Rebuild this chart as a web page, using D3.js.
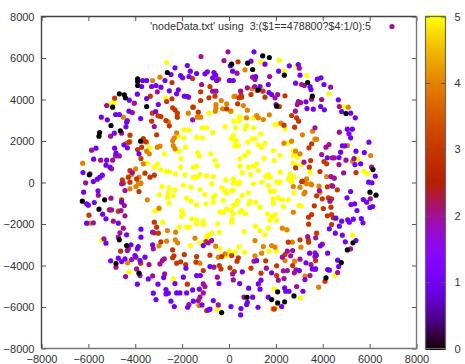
<!DOCTYPE html>
<html><head><meta charset="utf-8">
<script src="https://cdnjs.cloudflare.com/ajax/libs/d3/7.8.5/d3.min.js"></script>
<style>html,body{margin:0;padding:0;background:#fff}svg{display:block}text{font-family:"Liberation Sans",Arial,sans-serif;font-size:11px;fill:#333}</style>
</head><body><svg id="c" width="465" height="364"></svg>
<script>
const xTicks=[-8000,-6000,-4000,-2000,0,2000,4000,6000,8000];
const yTicks=[-8000,-6000,-4000,-2000,0,2000,4000,6000,8000];
const cbTicks=[0,1,2,3,4,5];
const keyLabel="'nodeData.txt' using  3:($1==478800?$4:1/0):5";
const keySample=[6953,7518,2];
const values0=[[-2632,5301],[112,5703],[-3898,4996],[-3898,4867],[-3898,4674],[-4680,4272],[-4467,4224],[-4424,4080],[-4964,3630],[-3514,3662],[-5036,2746],[-4637,2489],[-5519,2408],[-5547,2232],[-3770,1990],[-5960,368],[1436,6104],[1720,6024],[796,5751],[1009,5445],[2360,5172],[3356,4819],[3555,4160],[2033,3678],[1251,4465],[4991,3324],[6143,625],[-6258,-900],[-5306,-836],[-5547,-1286],[-4680,-2764],[-4367,-3038],[-4822,-3905],[-3841,-4371],[-314,-6268],[6015,-466],[6271,-611],[5289,-2909],[5048,-3247],[4792,-3857],[4138,-4596],[2076,-5271],[1820,-5641],[2773,-5464],[2374,-5753],[2076,-5802],[768,-5529]];
const values1=[[-1779,5638],[-2305,5526],[-2476,5204],[-2064,5156],[-1978,5044],[-1651,5365],[-1708,5108],[-1381,5253],[-1025,5237],[-926,5333],[-642,5301],[-570,5172],[-698,5044],[-528,4915],[55,5622],[155,5365],[13,4915],[-3685,4915],[-3514,4915],[-2732,4915],[-3727,4626],[-3301,4626],[-3116,4674],[-2903,4594],[-3912,4256],[-2547,4417],[-2163,4465],[-2234,4272],[-1907,4160],[-1779,4144],[-3514,4048],[-4253,3967],[-3016,3758],[-4268,3437],[-3130,3421],[-4836,3276],[-4680,3276],[-5448,3148],[-5192,3019],[-4367,2906],[-3770,3083],[-4396,2681],[-4893,2376],[-4879,1653],[-4481,1814],[-4339,1669],[-3841,1380],[-4822,1412],[-5675,1653],[-5775,1123],[-5220,1075],[-5249,833],[-5405,351],[-5505,255],[-5619,158],[-5789,46],[-6230,480],[-5078,737],[1066,6297],[1535,5703],[938,5847],[2573,5622],[2957,5687],[2118,5365],[3029,5172],[1137,5108],[1678,4722],[2844,4787],[184,4915],[3768,4980],[3924,5044],[4052,4722],[3455,4626],[3498,4481],[1322,4626],[1706,4337],[1820,4240],[3284,3887],[4664,3983],[3910,3662],[3327,3565],[3597,3533],[4067,3501],[4806,3421],[5190,3340],[5389,3115],[5048,2569],[5261,2569],[5119,2344],[5190,2151],[5972,1942],[4834,1766],[4948,1766],[4763,1460],[5417,1508],[5773,1444],[4195,1187],[4692,1203],[5617,898],[5375,866],[6242,303],[5958,14],[6100,-18],[-6202,-466],[-5590,-402],[-6074,-1029],[-6002,-1093],[-5747,-965],[-5391,-1527],[-5249,-1752],[-4723,-1961],[-6074,-1961],[-4367,-2523],[-5249,-2925],[-4580,-949],[-3756,-2250],[-3756,-2636],[-4182,-3006],[-3869,-3086],[-3912,-3198],[-3258,-3006],[-4012,-3520],[-3585,-3600],[-3798,-3761],[-4438,-3680],[-4723,-3648],[-4580,-3809],[-5050,-3777],[-1836,-4130],[-812,-4050],[-3443,-4645],[-3912,-4902],[-3031,-4902],[-2789,-4580],[-2305,-4870],[-1950,-4564],[-1381,-4484],[-1225,-4484],[-2689,-5159],[-2689,-5368],[-2590,-5336],[-3230,-5336],[-3116,-5641],[-2234,-5320],[-2092,-5320],[-1808,-5320],[-1552,-5175],[-1267,-5143],[-2476,-5721],[-2334,-5978],[-1765,-6011],[-1523,-5721],[-1153,-5898],[-670,-5689],[-812,-6107],[-883,-6139],[-428,-4870],[84,-5978],[-1097,-3038],[5190,-434],[5034,-740],[5204,-1061],[5361,-1029],[5730,-820],[5873,-949],[6015,-1206],[6128,-1157],[5460,-1350],[5645,-1736],[5716,-1945],[5062,-1800],[5133,-1913],[5304,-1768],[4806,-1865],[4564,-1720],[4706,-2106],[4280,-2234],[4536,-2443],[4834,-2540],[4962,-2861],[5417,-2797],[3896,-3054],[4209,-3407],[3441,-3407],[3725,-3504],[4635,-3745],[4678,-4050],[4209,-4195],[4280,-4227],[3284,-3873],[3697,-4163],[3555,-4163],[3000,-4243],[1180,-3761],[568,-4307],[1820,-4355],[3242,-4677],[3156,-5240],[2374,-5079],[2417,-5240],[2559,-5240],[1678,-5528],[2246,-5978],[1322,-5143],[1251,-4886],[1365,-4709],[839,-5095],[455,-4870],[1009,-5528],[782,-5770],[753,-5882],[512,-6075],[497,-6380],[1237,-6011]];
const values2=[[-1196,6072],[-44,6297],[-215,5879],[-1168,4722],[-698,4401],[-556,4401],[-3059,4369],[-4040,3822],[-5220,3710],[-4125,3372],[-4339,2987],[-3187,2698],[-4580,2376],[-5050,2232],[-5860,1557],[-4836,1283],[-4680,1283],[-5476,1075],[-4964,1075],[-5007,657],[-4125,480],[-6116,-18],[-5931,416],[-1722,4112],[-1552,3019],[3000,5510],[1734,5108],[1109,4963],[1009,5076],[3100,4722],[3213,4674],[4337,4594],[782,4562],[497,4401],[1095,4626],[1962,4080],[2076,4240],[3526,4015],[3953,4000],[2957,3903],[3057,3855],[2915,3758],[2829,3437],[2005,3758],[4706,3662],[4138,1701],[4266,1830],[4706,2424],[3668,2633],[3953,1348],[4408,1187],[4493,1187],[3199,978],[4692,866],[5332,1155],[4991,1075],[4891,464],[4351,287],[4493,207],[6086,737],[341,5269],[42,4915],[-5576,-611],[-4580,-65],[-4438,-386],[-5036,-756],[-4467,-1109],[-5078,-1318],[-5007,-1318],[-4609,-1350],[-4438,-1607],[-4936,-1865],[-5789,-1945],[-4509,-2202],[-4652,-2427],[-4723,-2636],[-5334,-2716],[-4296,-3198],[-4339,-3279],[-3414,-3954],[-4154,-3713],[-3969,-3600],[-4822,-4082],[-3941,-4163],[-4410,-4532],[-3798,-4484],[-3258,-4500],[-2746,-4404],[-2945,-3922],[-2846,-3761],[-2760,-3680],[-3230,-3198],[-3258,-2395],[-1097,-4886],[-1025,-5014],[-1239,-5528],[-1097,-5320],[-1310,-5689],[-1708,-5882],[-457,-5898],[-642,-4082],[-499,-4564],[155,-4404],[183,-4693],[-883,-2909],[-741,-2797],[3853,-386],[4422,-177],[4308,-900],[6029,-788],[3981,-2973],[3697,-2668],[3356,-2604],[2488,-3311],[2630,-3536],[2716,-3279],[2275,-3600],[3029,-3696],[3498,-3954],[3668,-3391],[3668,-3568],[1592,-4130],[1066,-3793],[2318,-4259],[2488,-4243],[2787,-4355],[2858,-4211],[3455,-4484],[3668,-4179],[4635,-4339],[2346,-4628],[2104,-4709],[2886,-5014],[640,-5528],[5190,-3198]];
const values3=[[-2433,4819],[-1552,5012],[-442,4980],[-812,4626],[-1210,4369],[-599,4160],[-2433,4031],[-3358,4160],[-4879,4064],[-2661,3903],[-1210,3951],[-855,4080],[-2405,3597],[-2305,3501],[-2206,3340],[-3031,3212],[-3272,3340],[-3301,2954],[-2903,3180],[-2689,2987],[-2547,2730],[-2206,3148],[-3087,2296],[-4225,2280],[-4268,1942],[-3656,2119],[-3557,1975],[-3898,1589],[-3727,1701],[-3756,1155],[-3372,255],[-4225,576],[-3585,448],[-3187,351],[-4296,255],[-4552,126],[-4225,14],[-3941,174],[-4509,-34],[-1310,3389],[-1523,3630],[-101,3549],[384,5815],[1450,4401],[1208,4433],[512,4208],[426,4080],[540,4112],[938,4240],[1535,4112],[2389,4176],[369,3790],[2147,3662],[2673,3228],[2886,3115],[2972,2954],[2801,2665],[2346,2762],[3526,1862],[3412,1669],[2844,705],[3427,737],[3484,1058],[4052,1010],[4166,898],[3882,528],[3128,62],[5417,480],[-4580,-836],[-3841,-434],[-5107,-1318],[-4723,-1382],[-5974,-1575],[-4623,-3311],[-3770,-3889],[-3187,-1913],[-3087,-2154],[-3187,-2427],[-3016,-2443],[-2903,-2861],[-2405,-3247],[-2348,-3536],[-2405,-3632],[-2234,-3889],[-2064,-3825],[-1907,-3472],[-1850,-3954],[-1779,-4902],[-1409,-3841],[-1381,-3568],[-812,-3504],[-414,-4002],[-343,-4163],[41,-4114],[112,-3520],[-1097,-4243],[-983,-2845],[-954,-6171],[-314,-3568],[3100,48],[4195,-209],[4379,-145],[4621,-354],[3740,-643],[3981,-788],[4237,-740],[4379,-788],[3640,-1125],[4024,-1254],[4351,-1190],[4195,-1607],[4379,-1543],[4451,-1704],[3526,-1543],[3398,-1672],[3398,-2009],[4379,-2025],[3740,-2443],[3384,-2765],[3398,-2877],[3029,-2765],[2531,-2877],[2389,-3472],[1564,-3777],[1365,-4371],[938,-4130],[227,-4291],[2033,-4018],[2033,-4484],[2716,-4002],[3697,-3761],[4095,-4757],[1934,-6091],[398,-3632],[341,-3793]];
const values4=[[-2945,5076],[-3258,4915],[-6244,930],[-329,3951],[-101,3790],[-556,3758],[-556,3597],[-585,3437],[212,4144],[-1552,3630],[-1736,3340],[-1353,3148],[-1210,3148],[-272,3549],[-4509,3148],[-2590,2923],[-2234,2392],[-2334,2151],[-2376,1781],[-2405,2022],[-2305,1621],[-3059,1701],[-2945,1749],[-3514,1942],[-3656,1990],[-4367,1894],[-4225,1974],[-3514,1508],[-3400,1380],[-3656,898],[-3983,657],[-3841,255],[-4154,383],[-3869,-18],[-3756,-34],[682,5429],[256,4160],[995,4513],[611,3710],[782,3485],[71,3437],[1180,3228],[1251,3115],[1464,3035],[1720,3260],[753,3115],[2218,2858],[3569,2473],[3668,2087],[3740,2087],[3128,2296],[2673,1990],[2346,1894],[2844,1508],[3029,1380],[5062,1782],[5090,3630],[5275,1026],[4166,287],[3313,174],[3498,-67],[3242,14],[6043,1299],[-3486,-836],[-2988,-1238],[-5931,-1961],[-4325,-3873],[-2632,-2315],[-2277,-2395],[-2661,-2829],[-2988,-3054],[-2291,-2765],[-2192,-2909],[-1452,-2684],[-570,-3070],[-1239,-3889],[-457,-3600],[-172,-3439],[-1281,-5930],[-4225,-306],[-3969,-193],[-3798,-65],[2744,-193],[3029,-225],[3313,-65],[3526,-113],[3839,-177],[3882,-466],[3242,-466],[3199,-547],[2744,-1431],[2275,-2202],[2474,-2282],[1109,-2797],[1464,-3086],[1820,-3038],[1962,-3118],[1393,-3407],[2701,-2877],[3071,-3118],[1109,-3536],[2389,-3761],[2801,-3793],[3242,-4516],[3825,-5046],[1880,-6091]];
const values5=[[-2661,5783],[-5078,3758],[-4908,3855],[-2703,4080],[-855,3340],[112,3437],[-172,2698],[212,2954],[-1139,2633],[-954,2633],[-698,2408],[183,2264],[84,2103],[254,1781],[-1921,2537],[-1708,2537],[-2163,2216],[-1921,2151],[-1381,2183],[-1139,2151],[-2277,1573],[-1850,1701],[-2135,1508],[-2760,1380],[-2049,1139],[-1338,1444],[-1267,1283],[-770,1380],[-599,1058],[-499,817],[-1523,737],[-1381,769],[-3045,898],[-3187,737],[-3486,930],[-3400,1669],[-2903,608],[-2064,737],[-2661,528],[-2547,528],[-2277,416],[-1879,368],[-1523,255],[-1381,255],[-954,319],[-670,287],[-1239,383],[-144,126],[-2860,-193],[-2547,-258],[-2305,-354],[-1950,-129],[-1623,-225],[-1239,-338],[-741,-65],[-314,-258],[-2590,-515],[-2376,-627],[-2974,-595],[-2618,-708],[-1808,-756],[-1025,-579],[-599,-627],[-101,-515],[112,-386],[-1623,-900],[-1381,-1077],[-2561,-997],[-3158,-1382],[-2974,-1270],[-2021,-1350],[-1950,-1511],[-983,-1029],[-670,-949],[-386,-1431],[-243,-1431],[-101,-1270],[84,-1350],[183,-1511],[-2021,-1640],[-1594,-1752],[-1381,-1800],[-1097,-1865],[-1097,-2041],[-1694,-2154],[-1808,-2154],[-1381,-1993],[-2120,-2154],[-2831,-1913],[-485,-1993],[-741,-2443],[-883,-2523],[-954,-2636],[-414,-2395],[-1651,-3038],[-1239,-2909],[-386,-3198],[13,-3311],[98,-3439],[-101,-3520],[-2376,-4645],[-4268,-4307],[-499,-6123],[-5434,-2797],[-243,-868],[-172,-386],[-670,-708],[1351,5799],[2147,5895],[2360,5365],[3313,5156],[4266,4272],[4877,3662],[5489,1123],[5759,544],[5915,416],[2886,5606],[440,3179],[426,2954],[711,3115],[1038,3115],[284,2633],[682,2585],[753,2746],[1038,2633],[1351,2344],[184,2103],[298,2022],[398,1781],[256,1749],[796,1942],[995,2103],[1109,2103],[1251,1814],[1393,1701],[1535,1894],[1891,1541],[2175,1299],[469,1139],[824,1460],[682,1299],[1493,1171],[1919,1058],[2744,1541],[2744,1299],[2929,1219],[2744,930],[3100,866],[2844,817],[469,787],[1180,898],[1038,787],[824,737],[568,464],[924,383],[1251,576],[2175,496],[2602,416],[3455,496],[1678,383],[1564,287],[1749,255],[2033,14],[2175,14],[2531,174],[2630,126],[1393,14],[2773,255],[1962,2794],[2147,2826],[2389,2585],[2502,1894],[440,14],[184,174],[184,-386],[824,-499],[568,-627],[1749,-418],[1934,-418],[2773,-499],[369,-868],[327,-1029],[896,-900],[853,-1029],[1137,-949],[184,-1109],[540,-1350],[711,-1511],[469,-1431],[1322,-1190],[1891,-788],[2104,-740],[2275,-836],[2531,-836],[1891,-997],[2318,-1157],[2986,-1109],[3071,-1125],[1649,-1511],[1962,-1559],[1820,-1640],[1749,-1832],[2033,-1832],[142,-1752],[113,-1913],[1137,-2106],[1322,-2315],[1678,-2202],[1535,-2523],[2460,-2282],[640,-2363],[440,-3086],[256,-3359],[654,-3359],[1706,-3311],[2033,-3311],[1934,-5127],[5275,-2540],[3057,-5560],[4522,-4468],[2033,-6011],[1038,-65],[398,-65],[1678,-145],[2062,16],[2673,32],[184,-33]];
const groups=[[5,values5],[4,values4],[3,values3],[2,values2],[1,values1],[0,values0]];

function palette(v){const t=Math.max(0,Math.min(1,v/5));
  const c=a=>Math.round(Math.max(0,Math.min(1,a))*255);
  return d3.rgb(c(Math.sqrt(t)),c(t*t*t),c(Math.sin(2*Math.PI*t))).formatHex();}

const svg=d3.select("#c");
const L=41.5,R=416.5,T=16.5,B=348.5;
const x=d3.scaleLinear().domain([-8000,8000]).range([L,R]);
const y=d3.scaleLinear().domain([-8000,8000]).range([B,T]);
const cb=d3.scaleLinear().domain([0,5]).range([B,T]);

groups.forEach(([v,arr])=>{
  svg.append("g").selectAll("circle").data(arr).join("circle")
    .attr("cx",d=>x(d[0])).attr("cy",d=>y(d[1])).attr("r",2.6).attr("fill",palette(v));
});
svg.append("circle").attr("cx",x(keySample[0])).attr("cy",y(keySample[1])).attr("r",2.6).attr("fill",palette(keySample[2]));
svg.append("text").attr("x",371).attr("y",30).attr("text-anchor","end").style("font-size","10.75px").style("white-space","pre").text(keyLabel);

// colour bar
const cbX=425.5,cbW=20;
const steps=d3.range(0,5.0001,5/166);
svg.append("g").selectAll("rect").data(steps).join("rect")
  .attr("x",cbX).attr("width",cbW).attr("y",d=>cb(d)-1.5).attr("height",3).attr("fill",d=>palette(d));

function style(g,lab){g.select(".domain").attr("stroke","none");
  g.selectAll("line").attr("stroke","#555");
  g.selectAll("text").style("font-family",'"Liberation Sans",Arial,sans-serif').style("font-size","11px").attr("fill","#333");
  if(!lab)g.selectAll("text").remove();}
const ax=(fn,sc,ticks,tx,ty,lab)=>{const g=svg.append("g").attr("transform",`translate(${tx},${ty})`)
  .call(fn(sc).tickValues(ticks).tickFormat(d3.format("d")).tickSizeInner(-4.5).tickSizeOuter(0).tickPadding(7));style(g,lab);return g;};
ax(d3.axisBottom,x,xTicks,0,B,true);
ax(d3.axisTop,x,xTicks,0,T,false);
ax(d3.axisLeft,y,yTicks,L,0,true);
ax(d3.axisRight,y,yTicks,R,0,false);
ax(d3.axisLeft,cb,cbTicks,cbX,0,false);
const rg=ax(d3.axisRight,cb,cbTicks,cbX+cbW,0,true);
rg.call(g=>g.selectAll("text").attr("x",9));

svg.append("path").attr("d",`M${L},${B}V${T}H${R}`).attr("fill","none").attr("stroke","#444").attr("stroke-width",1.4);
svg.append("path").attr("d",`M${L},${B}H${R}V${T}`).attr("fill","none").attr("stroke","#777").attr("stroke-width",1.4);
svg.append("rect").attr("x",cbX).attr("y",T).attr("width",cbW).attr("height",B-T).attr("fill","none").attr("stroke","#666").attr("stroke-width",1.2);
</script></body></html>
